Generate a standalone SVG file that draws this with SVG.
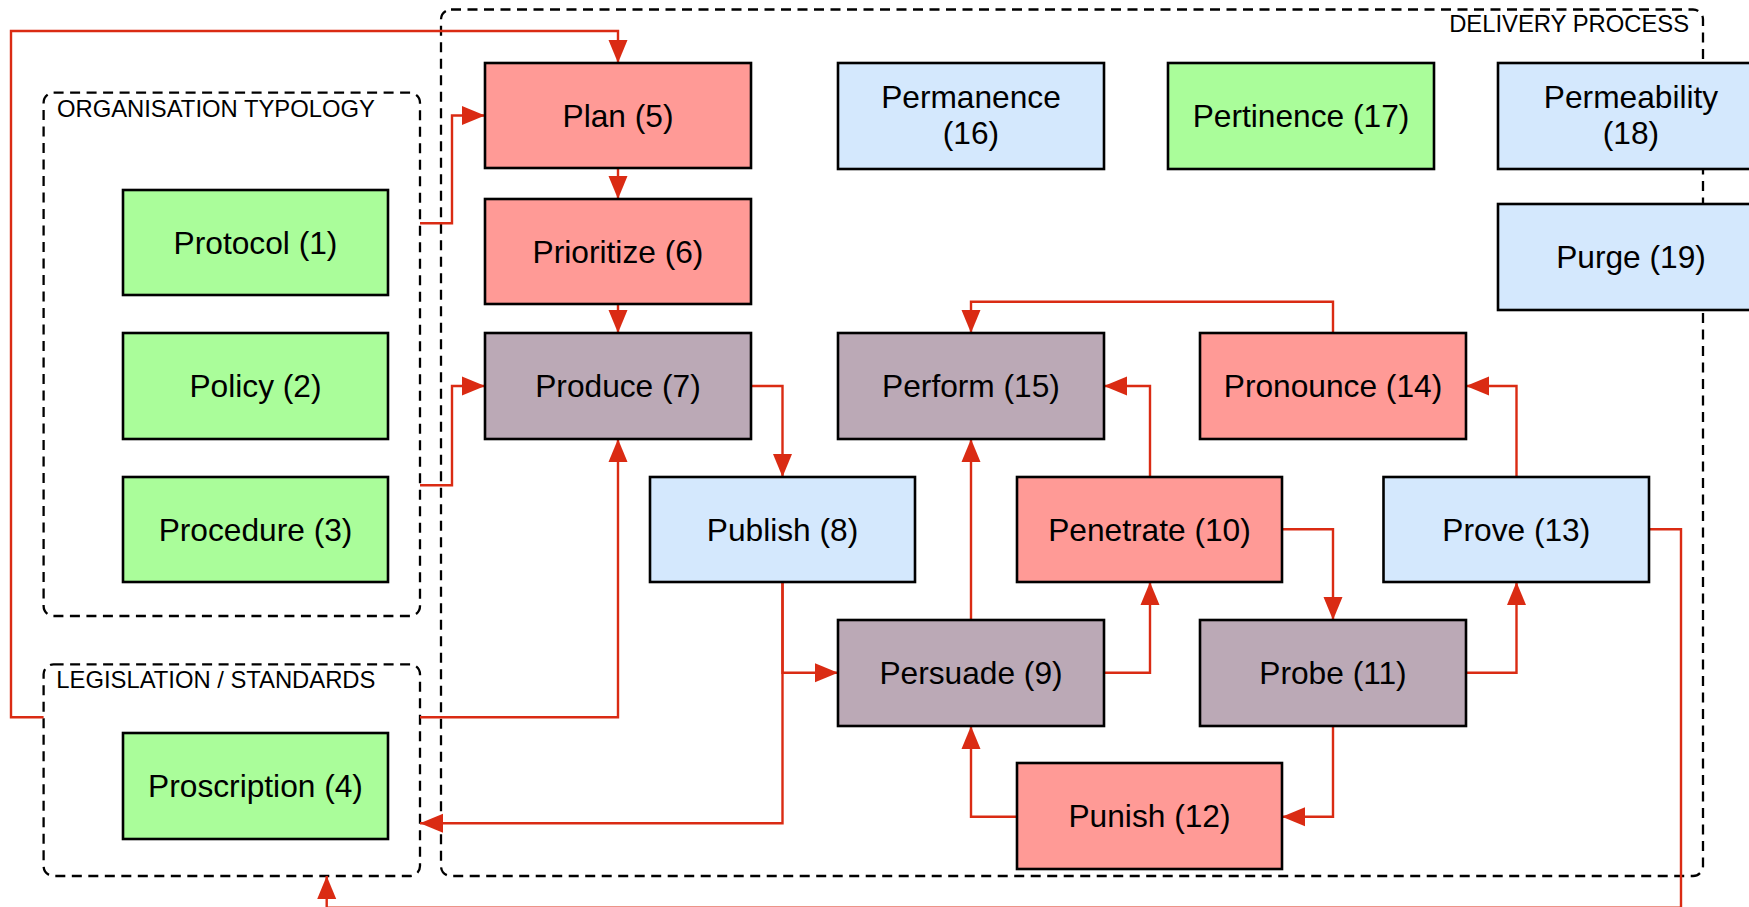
<svg xmlns="http://www.w3.org/2000/svg" width="1749" height="907" viewBox="0 0 1749 907">
  <defs>
    <marker id="arrow" markerUnits="userSpaceOnUse" markerWidth="24" markerHeight="20" viewBox="0 0 24 20" refX="23" refY="10" orient="auto">
      <path d="M0,0.5 L23,10 L0,19.5 z" fill="#DA2B13"/>
    </marker>
    <style>
      .grp { fill: none; stroke: #000; stroke-width: 2.3; stroke-dasharray: 10 6.5; }
      .grp-label { font-family: "Liberation Sans", Arial, sans-serif; font-size: 23.8px; fill: #000; }
      .node rect { stroke: #000; stroke-width: 2.6; }
      .node text { font-family: "Liberation Sans", Arial, sans-serif; font-size: 31.7px; fill: #000; text-anchor: middle; }
      .red rect { fill: #FF9A96; }
      .green rect { fill: #AAFD9A; }
      .blue rect { fill: #D4E8FD; }
      .mauve rect { fill: #BBA9B6; }
      .edge { fill: none; stroke: #DA2B13; stroke-width: 2.4; marker-end: url(#arrow); }
    </style>
  </defs>

  <rect width="1749" height="907" fill="#fff"/>

  <!-- containers -->
  <g id="delivery-process">
    <rect class="grp" x="441" y="9.5" width="1262" height="866.5" rx="10"/>
    <text class="grp-label" x="1689" y="32.3" text-anchor="end">DELIVERY PROCESS</text>
  </g>
  <g id="organisation-typology">
    <rect class="grp" x="43.6" y="92.7" width="376.4" height="523.3" rx="10"/>
    <text class="grp-label" x="57" y="116.7">ORGANISATION TYPOLOGY</text>
  </g>
  <g id="legislation-standards">
    <rect class="grp" x="43.6" y="664.3" width="376.4" height="211.7" rx="10"/>
    <text class="grp-label" x="56.3" y="688.3">LEGISLATION / STANDARDS</text>
  </g>

  <!-- connectors -->
  <g id="connectors">
    <path class="edge" d="M43.6,717.3 H11 V31 H618 V63"/>
    <path class="edge" d="M420,223.3 H452 V115.5 H485"/>
    <path class="edge" d="M420,485.3 H452 V386 H485"/>
    <path class="edge" d="M618,168 V199"/>
    <path class="edge" d="M618,304 V333"/>
    <path class="edge" d="M420,717.3 H618 V439"/>
    <path class="edge" d="M751,386 H782.5 V477"/>
    <path class="edge" d="M782.5,582 V672.7 H838"/>
    <path class="edge" d="M782.5,582 V823.3 H420"/>
    <path class="edge" d="M971,620 V439"/>
    <path class="edge" d="M1104,672.7 H1150 V582"/>
    <path class="edge" d="M1150,477 V386 H1104"/>
    <path class="edge" d="M1282,529.3 H1333 V620"/>
    <path class="edge" d="M1466,672.7 H1516.5 V582"/>
    <path class="edge" d="M1516.5,477 V386 H1466"/>
    <path class="edge" d="M1333,333 V301.7 H971 V333"/>
    <path class="edge" d="M1333,726 V816.7 H1282"/>
    <path class="edge" d="M1017,816.7 H971 V726"/>
    <path class="edge" d="M1649,529.3 H1681 V907.8 H326.7 V876"/>
  </g>

  <!-- organisation typology -->
  <g id="protocol" class="node green">
    <rect x="123" y="190" width="265" height="105"/>
    <text x="255.5" y="253.5">Protocol (1)</text>
  </g>
  <g id="policy" class="node green">
    <rect x="123" y="333" width="265" height="106"/>
    <text x="255.5" y="397">Policy (2)</text>
  </g>
  <g id="procedure" class="node green">
    <rect x="123" y="477" width="265" height="105"/>
    <text x="255.5" y="540.5">Procedure (3)</text>
  </g>

  <!-- legislation / standards -->
  <g id="proscription" class="node green">
    <rect x="123" y="733" width="265" height="106"/>
    <text x="255.5" y="797">Proscription (4)</text>
  </g>

  <!-- delivery process -->
  <g id="plan" class="node red">
    <rect x="485" y="63" width="266" height="105"/>
    <text x="618" y="126.5">Plan (5)</text>
  </g>
  <g id="prioritize" class="node red">
    <rect x="485" y="199" width="266" height="105"/>
    <text x="618" y="262.5">Prioritize (6)</text>
  </g>
  <g id="produce" class="node mauve">
    <rect x="485" y="333" width="266" height="106"/>
    <text x="618" y="397">Produce (7)</text>
  </g>
  <g id="publish" class="node blue">
    <rect x="650" y="477" width="265" height="105"/>
    <text x="782.5" y="540.5">Publish (8)</text>
  </g>
  <g id="persuade" class="node mauve">
    <rect x="838" y="620" width="266" height="106"/>
    <text x="971" y="684">Persuade (9)</text>
  </g>
  <g id="penetrate" class="node red">
    <rect x="1017" y="477" width="265" height="105"/>
    <text x="1149.5" y="540.5">Penetrate (10)</text>
  </g>
  <g id="probe" class="node mauve">
    <rect x="1200" y="620" width="266" height="106"/>
    <text x="1333" y="684">Probe (11)</text>
  </g>
  <g id="punish" class="node red">
    <rect x="1017" y="763" width="265" height="106"/>
    <text x="1149.5" y="827">Punish (12)</text>
  </g>
  <g id="prove" class="node blue">
    <rect x="1383.5" y="477" width="265.5" height="105"/>
    <text x="1516.3" y="540.5">Prove (13)</text>
  </g>
  <g id="pronounce" class="node red">
    <rect x="1200" y="333" width="266" height="106"/>
    <text x="1333" y="397">Pronounce (14)</text>
  </g>
  <g id="perform" class="node mauve">
    <rect x="838" y="333" width="266" height="106"/>
    <text x="971" y="397">Perform (15)</text>
  </g>
  <g id="permanence" class="node blue">
    <rect x="838" y="63" width="266" height="106"/>
    <text x="971" y="108">Permanence</text>
    <text x="971" y="144">(16)</text>
  </g>
  <g id="pertinence" class="node green">
    <rect x="1168" y="63" width="266" height="106"/>
    <text x="1301" y="127">Pertinence (17)</text>
  </g>
  <g id="permeability" class="node blue">
    <rect x="1498" y="63" width="266" height="106"/>
    <text x="1631" y="108">Permeability</text>
    <text x="1631" y="144">(18)</text>
  </g>
  <g id="purge" class="node blue">
    <rect x="1498" y="204" width="266" height="106"/>
    <text x="1631" y="268">Purge (19)</text>
  </g>
</svg>
